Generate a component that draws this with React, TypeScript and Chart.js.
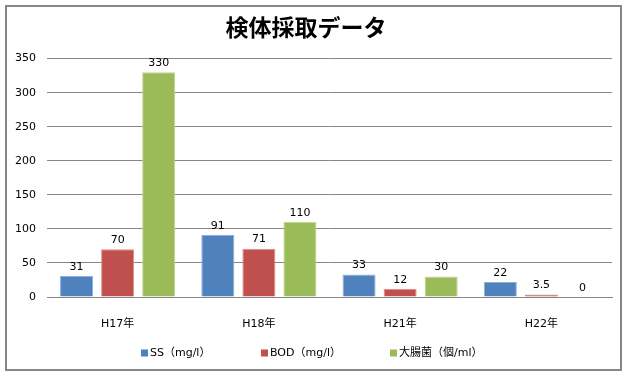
import React, { useEffect, useRef } from "react";
import { Chart, registerables } from "chart.js";

Chart.register(...registerables);

const titleText = "検体採取データ";
const categories = ["H17年", "H18年", "H21年", "H22年"];
const seriesNames = ["SS（mg/l）", "BOD（mg/l）", "大腸菌（個/ml）"];
const ssValues = [31, 91, 33, 22];
const bodValues = [70, 71, 12, 3.5];
const ecoliValues = [330, 110, 30, 0];
const yTicks = { min: 0, max: 350, step: 50 };

const TITLE_FONT = "'Noto Sans CJK JP', 'Noto Sans', sans-serif";
const FONT = "'DejaVu Sans', 'Noto Sans CJK JP', sans-serif";
const fills = ["#4F81BD", "#C0504D", "#9BBB59"];
const edges = ["#8FAEDA", "#DA8F8D", "#BFD596"];

const framePlugin = {
  id: "frame",
  beforeDraw(chart: any) {
    const { ctx, width, height } = chart;
    ctx.save();
    ctx.fillStyle = "#ffffff";
    ctx.fillRect(0, 0, width, height);
    ctx.strokeStyle = "#868686";
    ctx.lineWidth = 2;
    ctx.strokeRect(6, 6, 615, 364);
    ctx.restore();
  },
};

const valueLabelPlugin = {
  id: "valueLabels",
  afterDatasetsDraw(chart: any) {
    const { ctx } = chart;
    ctx.save();
    ctx.font = `11px ${FONT}`;
    ctx.fillStyle = "#000";
    ctx.textAlign = "center";
    ctx.textBaseline = "middle";
    chart.data.datasets.forEach((ds: any, i: number) => {
      const meta = chart.getDatasetMeta(i);
      meta.data.forEach((el: any, j: number) => {
        ctx.fillText(String(ds.data[j]), el.x, el.y - 9);
      });
    });
    ctx.restore();
  },
};

const legendPlugin = {
  id: "customLegend",
  afterDraw(chart: any) {
    const { ctx } = chart;
    const xs = [141, 261, 390];
    const y = 353;
    ctx.save();
    ctx.font = `11px ${FONT}`;
    ctx.textBaseline = "middle";
    ctx.textAlign = "left";
    chart.data.datasets.forEach((ds: any, i: number) => {
      ctx.fillStyle = ds.backgroundColor;
      ctx.fillRect(xs[i], y - 3.5, 7, 7);
      ctx.fillStyle = "#000";
      ctx.fillText(ds.label, xs[i] + 9, y);
    });
    ctx.restore();
  },
};

export default function App() {
  const ref = useRef<HTMLCanvasElement>(null);
  useEffect(() => {
    document.body.style.margin = "0";
    const canvas = ref.current!;
    const values = [ssValues, bodValues, ecoliValues];
    const chart = new Chart(canvas, {
      type: "bar",
      data: {
        labels: categories,
        datasets: seriesNames.map((name, i) => ({
          label: name,
          data: values[i],
          backgroundColor: fills[i],
          borderColor: edges[i],
          borderWidth: 1,
          barPercentage: 0.805,
          categoryPercentage: 0.872,
        })),
      },
      options: {
        animation: false,
        responsive: false,
        maintainAspectRatio: false,
        layout: { padding: { left: 0, right: 16, top: 0, bottom: 34 } },
        plugins: {
          legend: { display: false },
          tooltip: { enabled: false },
          title: {
            display: true,
            text: titleText,
            color: "#000",
            font: { family: TITLE_FONT, size: 23, weight: "bold" },
            padding: { top: 13, bottom: 18 },
          },
        },
        scales: {
          x: {
            grid: { display: false },
            border: { display: true, color: "#868686", width: 1 },
            ticks: {
              color: "#000",
              font: { family: FONT, size: 11 },
              padding: 13,
            },
            afterFit(scale: any) {
              scale.height = 45;
            },
          },
          y: {
            min: yTicks.min,
            max: yTicks.max,
            grid: { color: "#868686", drawTicks: false },
            border: { display: false },
            ticks: {
              stepSize: yTicks.step,
              color: "#000",
              font: { family: FONT, size: 11 },
              padding: 11,
            },
            afterFit(scale: any) {
              scale.width = 47;
            },
          },
        },
      },
      plugins: [framePlugin, valueLabelPlugin, legendPlugin],
    } as any);
    return () => chart.destroy();
  }, []);
  return <canvas ref={ref} width={628} height={376} style={{ display: "block" }} />;
}
